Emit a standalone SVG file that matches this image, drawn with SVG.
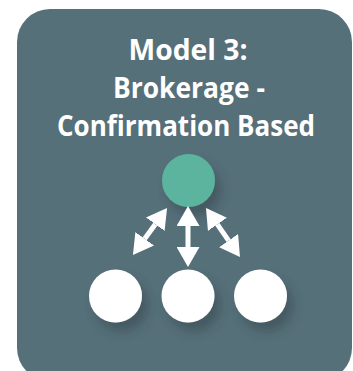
<svg xmlns="http://www.w3.org/2000/svg" width="353" height="371" viewBox="0 0 353 371">
<style>
.title{font-family:"Open Sans","Liberation Sans",sans-serif;font-weight:700;font-size:28px;fill:#ffffff;text-anchor:middle}
.conn{stroke:#ffffff;stroke-width:5;fill:none}
</style>
<defs>
<filter id="sh" x="-60%" y="-60%" width="220%" height="220%">
<feDropShadow dx="6" dy="9" stdDeviation="6" flood-color="#2a3a40" flood-opacity="0.45"/>
</filter>
<marker id="ah" viewBox="0 0 20 23" refX="0" refY="11.5" markerWidth="20" markerHeight="23" markerUnits="userSpaceOnUse" orient="auto-start-reverse">
<polygon points="0,0 20,11.5 0,23" fill="#ffffff"/>
</marker>
</defs>
<rect x="0" y="0" width="353" height="371" fill="#ffffff"/>
<rect id="panel" x="17" y="9" width="335" height="372" rx="33" ry="33" fill="#56707A"/>
<g id="title">
<text class="title" x="188" y="60" textLength="119" lengthAdjust="spacingAndGlyphs">Model 3:</text>
<text class="title" x="189" y="98" textLength="152" lengthAdjust="spacingAndGlyphs">Brokerage -</text>
<text class="title" x="186" y="136" textLength="258" lengthAdjust="spacingAndGlyphs">Confirmation Based</text>
</g>
<g id="broker"><circle cx="188.5" cy="180.5" r="26.5" fill="#5BB49F" filter="url(#sh)"/></g>
<g id="client1"><circle cx="115.5" cy="296" r="26.5" fill="#ffffff" filter="url(#sh)"/></g>
<g id="client2"><circle cx="188" cy="296" r="26.5" fill="#ffffff" filter="url(#sh)"/></g>
<g id="client3"><circle cx="260.5" cy="296" r="26.5" fill="#ffffff" filter="url(#sh)"/></g>
<g id="connectors">
<line class="conn" x1="155.3" y1="224.2" x2="144.7" y2="238.8" marker-start="url(#ah)" marker-end="url(#ah)"/>
<line class="conn" x1="188" y1="226" x2="188" y2="247" marker-start="url(#ah)" marker-end="url(#ah)"/>
<line class="conn" x1="217.4" y1="224.4" x2="228.6" y2="240.6" marker-start="url(#ah)" marker-end="url(#ah)"/>
</g>
</svg>
